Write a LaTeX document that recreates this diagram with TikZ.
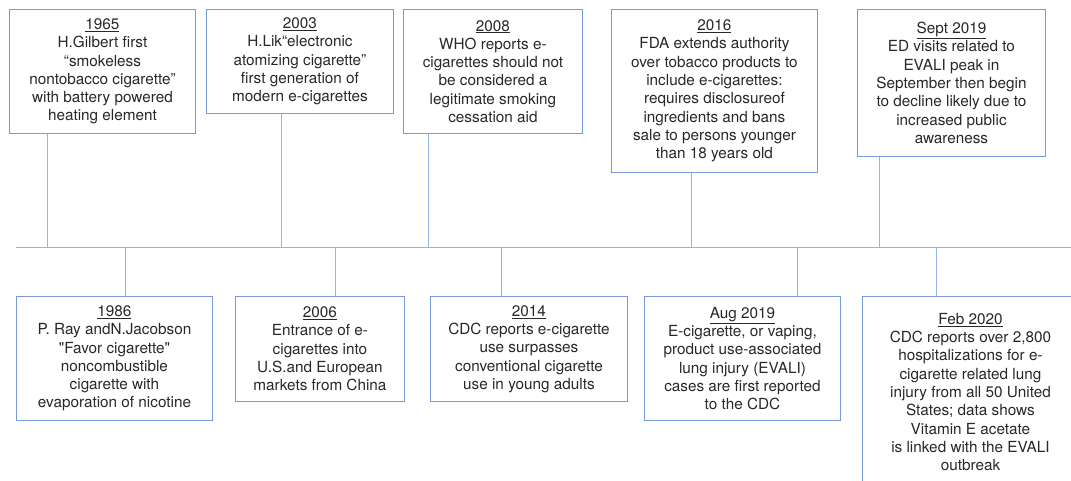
\documentclass[tikz,border=0pt]{standalone}
\usepackage{fontspec}
\setmainfont{TeX Gyre Heros}[Ligatures=TeXOff]
\definecolor{boxblue}{RGB}{122,153,218}
\definecolor{lineblue}{RGB}{150,178,228}
\definecolor{textgrey}{RGB}{40,40,40}
\begin{document}
\begin{tikzpicture}[x=1pt,y=-1pt]
      % Define styles for nodes
      \tikzstyle{event} = [anchor=north west, draw=boxblue, rectangle,
      line width=0.9pt, fill=white, align=center, inner sep=0pt,
      text=textgrey, font=\fontsize{15.3}{18.3}\selectfont]
      \tikzstyle{stem} = [draw=lineblue, line width=0.9pt]

      \useasboundingbox (0,0) rectangle (1071,481);
      \clip (0,0) rectangle (1071,481);

      % Events above the line
      \node[event, minimum width=186, minimum height=124] (e1965) at (9,9)
      {\underline{1965}\\H.Gilbert first\\“smokeless\\nontobacco cigarette”\\with battery powered\\heating element};
      \node[event, minimum width=187, minimum height=104] (e2003) at (206,9)
      {\underline{2003}\\H.Lik“electronic\\atomizing cigarette”\\first generation of\\modern e-cigarettes};
      \node[event, minimum width=179, minimum height=124] (e2008) at (403,9)
      {\underline{2008}\\WHO reports e-\\cigarettes should not\\be considered a\\legitimate smoking\\cessation aid};
      \node[event, minimum width=206, minimum height=163] (e2016) at (611,9)
      {\underline{2016}\\FDA extends authority\\over tobacco products to\\include e-cigarettes:\\requires disclosureof\\ingredients and bans\\sale to persons younger\\than 18 years old};
      \node[event, minimum width=188, minimum height=147] (esep19) at (857,9)
      {\underline{Sept 2019}\\ED visits related to\\EVALI peak in\\September then begin\\to decline likely due to\\increased public\\awareness};

      % Events below the line
      \node[event, minimum width=196, minimum height=124] (e1986) at (16,296)
      {\underline{1986}\\P. Ray andN.Jacobson\\"Favor cigarette"\\noncombustible\\cigarette with\\evaporation of nicotine};
      \node[event, minimum width=169, minimum height=105] (e2006) at (235,296)
      {\underline{2006}\\Entrance of e-\\cigarettes into\\U.S.and European\\markets from China};
      \node[event, minimum width=197, minimum height=105] (e2014) at (430,296)
      {\underline{2014}\\CDC reports e-cigarette\\use surpasses\\conventional cigarette\\use in young adults};
      \node[event, minimum width=196, minimum height=124] (eaug19) at (644,296)
      {\underline{Aug 2019}\\E-cigarette, or vaping,\\product use-associated\\lung injury (EVALI)\\cases are first reported\\to the CDC};
      \node[event, minimum width=216, minimum height=191] (efeb20) at (862,296)
      {\underline{Feb 2020}\\CDC reports over 2,800\\hospitalizations for e-\\cigarette related lung\\injury from all 50 United\\States; data shows\\Vitamin E acetate\\is linked with the EVALI\\outbreak};

      % Points on the time line
      \coordinate (start) at (16,247);
      \coordinate (end) at (1071,247);
      \coordinate (t1965) at (47,247);
      \coordinate (t1986) at (125,247);
      \coordinate (t2003) at (281,247);
      \coordinate (t2006) at (335,247);
      \coordinate (t2008) at (428,247);
      \coordinate (t2014) at (501,247);
      \coordinate (t2016) at (691,247);
      \coordinate (taug19) at (797,247);
      \coordinate (tsep19) at (879,247);
      \coordinate (tfeb20) at (936,247);

      % Time line and stems
      \draw[stem] (start) -- (end);
      \draw[stem] (t1965) -- (t1965 |- e1965.south);
      \draw[stem] (t2003) -- (t2003 |- e2003.south);
      \draw[stem] (t2008) -- (t2008 |- e2008.south);
      \draw[stem] (t2016) -- (t2016 |- e2016.south);
      \draw[stem] (tsep19) -- (tsep19 |- esep19.south);
      \draw[stem] (t1986) -- (t1986 |- e1986.north);
      \draw[stem] (t2006) -- (t2006 |- e2006.north);
      \draw[stem] (t2014) -- (t2014 |- e2014.north);
      \draw[stem] (taug19) -- (taug19 |- eaug19.north);
      \draw[stem] (tfeb20) -- (tfeb20 |- efeb20.north);

\end{tikzpicture}
\end{document}
